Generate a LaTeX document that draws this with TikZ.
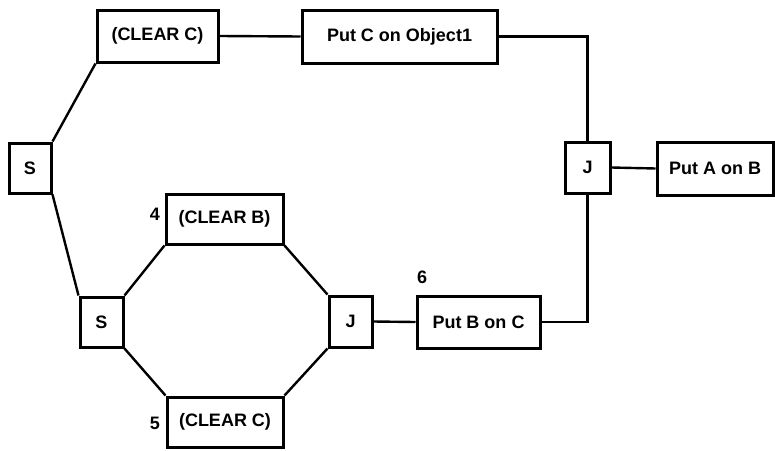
\documentclass[tikz,border=0pt]{standalone}
\usepackage{fontspec}
\setmainfont{Liberation Sans}
\usepackage{tikz}
\tikzset{
  blk/.style={draw, line width=3pt, inner sep=0pt, font=\bfseries\fontsize{18}{21}\selectfont},
  lnk/.style={line width=2.4pt},
  num/.style={font=\bfseries\fontsize{18}{21}\selectfont}
}

\begin{document}
\begin{tikzpicture}[x=1pt,y=-1pt]
        \useasboundingbox (0, 0) rectangle (775, 450);
        \node[blk, minimum width=42, minimum height=50](s1) at (30, 168) {S};
        \node[blk, minimum width=121, minimum height=52](clr1) at (157.5, 36) {(CLEAR C)};
        \node[blk, minimum width=195, minimum height=53](putc) at (399.5, 36.5) {Put C on Object1};
        \node[blk, minimum width=45, minimum height=51](j1) at (587.5, 167.5) {J};
        \node[blk, minimum width=116, minimum height=53](puta) at (715, 168.5) {Put A on B};
        \node[blk, minimum width=43, minimum height=50](s2) at (101.5, 322) {S};
        \node[blk, minimum width=117, minimum height=50](clrb) at (224.5, 219) {(CLEAR B)};
        \node[blk, minimum width=116, minimum height=50](clr2) at (225, 422) {(CLEAR C)};
        \node[blk, minimum width=43, minimum height=51](j2) at (350.5, 321.5) {J};
        \node[blk, minimum width=123, minimum height=52](putb) at (478.5, 322) {Put B on C};
        \node[num](n4) at (155, 214) {4};
        \node[num](n5) at (155, 423) {5};
        \node[num](n6) at (422, 277) {6};
        \draw[lnk](s1.north east) -- (clr1.south west);
        \draw[lnk](s1.south east) -- (s2.north west);
        \draw[lnk](clr1.east) -- (putc.west);
        \draw[lnk](putc.east) -| (j1.north);
        \draw[lnk](j1.east) -- (puta.west);
        \draw[lnk](s2.north east) -- (clrb.south west);
        \draw[lnk](s2.south east) -- (clr2.north west);
        \draw[lnk](clrb.south east) -- (j2.north west);
        \draw[lnk](clr2.north east) -- (j2.south west);
        \draw[lnk](j2.east) -- (putb.west);
        \draw[lnk](putb.east) -| (j1.south);
    \end{tikzpicture}
\end{document}
